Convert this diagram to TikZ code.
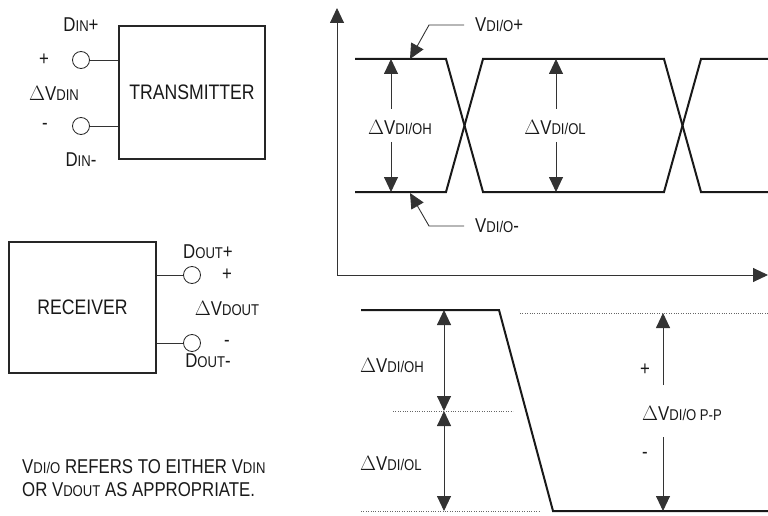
\documentclass[tikz,border=0pt]{standalone}
\usepackage{fontspec}
\setmainfont{Liberation Sans}
\newfontfamily\condf{Liberation Sans}[FakeStretch=0.84]
\usepackage{graphicx}
\usetikzlibrary{arrows.meta}
\newcommand\lo[1]{\scalebox{0.78}{#1}}
\tikzset{
  blk/.style={draw=black!85, line width=1.2pt, inner sep=0},
  btxt/.style={font=\condf\fontsize{21}{21}\selectfont, text=black!90, inner sep=0},
  term/.style={circle, draw=black!85, line width=0.8pt, minimum size=17pt, inner sep=0},
  lbl/.style={font=\condf\fontsize{20}{20}\selectfont, text=black!90, inner sep=0},
  thin/.style={line width=0.9pt, draw=black!80},
  wave/.style={line width=2pt, draw=black!90, line join=miter},
  onearrow/.style={thin, -{Triangle[length=15pt,width=14pt]}},
  twoarrow/.style={thin, {Triangle[length=15pt,width=14pt]}-{Triangle[length=15pt,width=14pt]}},
  dots/.style={draw=black!60, line width=0.6pt, dash pattern=on 0.8pt off 1.6pt},
}
\begin{document}
\begin{tikzpicture}[x=1pt,y=-1pt]
\useasboundingbox (0,0) rectangle (768,516);
% transmitter
\node[blk, minimum width=146pt, minimum height=133pt] (tx) at (192,92.5) {};
\node[btxt] (txt) at (tx.center) {TRANSMITTER};
\node[term] (t1) at (81,60) {};
\node[term] (t2) at (81,126) {};
\draw[thin] (t1) -- (t1 -| tx.west);
\draw[thin] (t2) -- (t2 -| tx.west);
\node[lbl] (dinp) at (81,25) {D\lo{IN}+};
\node[lbl] (pl1) at (44,60) {+};
\node[lbl] (dvin) at (54,93) {$\Delta$V\lo{DIN}};
\node[lbl] (mi1) at (45,126) {-};
\node[lbl] (dinm) at (81,160) {D\lo{IN}-};
% receiver
\node[blk, minimum width=147pt, minimum height=131pt] (rx) at (82.5,307.5) {};
\node[btxt] (rxt) at (rx.center) {RECEIVER};
\node[term] (r1) at (192,275) {};
\node[term] (r2) at (192,343) {};
\draw[thin] (r1) -- (r1 -| rx.east);
\draw[thin] (r2) -- (r2 -| rx.east);
\node[lbl] (doutp) at (208,252) {D\lo{OUT}+};
\node[lbl] (pl2) at (227,275) {+};
\node[lbl] (dvout) at (227,308) {$\Delta$V\lo{DOUT}};
\node[lbl] (mi2) at (227,343) {-};
\node[lbl] (doutm) at (208,361) {D\lo{OUT}-};
% note
\node[lbl, anchor=west, align=left, font=\condf\fontsize{20}{23}\selectfont] (note) at (22,478)
  {V\lo{DI/O} REFERS TO EITHER V\lo{DIN}\\OR V\lo{DOUT} AS APPROPRIATE.};
% axes
\coordinate (o) at (337,275);
\coordinate (ytip) at (337,8);
\coordinate (xtip) at (768,275);
\draw[onearrow] (o) -- (ytip);
\draw[onearrow] (o) -- (xtip);
% eye waveform
\draw[wave] (355,59) -- (446,59) -- (483,192) -- (664,192) -- (701,59) -- (768,59);
\draw[wave] (355,192) -- (446,192) -- (483,59) -- (664,59) -- (701,192) -- (768,192);
\node[lbl] (oh1) at (400,127) {$\Delta$V\lo{DI/OH}};
\node[lbl] (ol1) at (555,127) {$\Delta$V\lo{DI/OL}};
\coordinate (a1t) at (391,59); \coordinate (a1b) at (391,192);
\coordinate (a2t) at (556,59); \coordinate (a2b) at (556,192);
\draw[onearrow] (a1t |- 0,109) -- (a1t);
\draw[onearrow] (a1b |- 0,142) -- (a1b);
\draw[onearrow] (a2t |- 0,109) -- (a2t);
\draw[onearrow] (a2b |- 0,142) -- (a2b);
\node[lbl, anchor=west] (vp) at (475,25) {V\lo{DI/O}+};
\node[lbl, anchor=west] (vm) at (475,226) {V\lo{DI/O}-};
\coordinate (vpt) at (410,59);
\coordinate (vmt) at (410,193);
\draw[onearrow] (464,25) -- (429,25) -- (vpt);
\draw[onearrow] (464,226) -- (429,226) -- (vmt);
% bottom waveform
\draw[wave] (361,310) -- (499,310) -- (553,511) -- (768,511);
\draw[dots] (520,313) -- (768,313);
\draw[dots] (393,411) -- (513,411);
\draw[dots] (361,511) -- (539,511);
\coordinate (b1t) at (444,310); \coordinate (b1m) at (444,411); \coordinate (b1b) at (444,511);
\draw[twoarrow] (b1m) -- (b1t);
\draw[twoarrow] (b1m) -- (b1b);
\node[lbl, anchor=west] (oh2) at (360,365) {$\Delta$V\lo{DI/OH}};
\node[lbl, anchor=west] (ol2) at (360,463) {$\Delta$V\lo{DI/OL}};
\coordinate (b2t) at (663,313); \coordinate (b2b) at (663,511);
\draw[onearrow] (663,385) -- (b2t);
\draw[onearrow] (663,437) -- (b2b);
\node[lbl] (pl3) at (645,370) {+};
\node[lbl, anchor=west] (pp) at (642,413) {$\Delta$V\lo{DI/O P-P}};
\node[lbl] (mi3) at (645,455) {-};
\end{tikzpicture}
\end{document}
